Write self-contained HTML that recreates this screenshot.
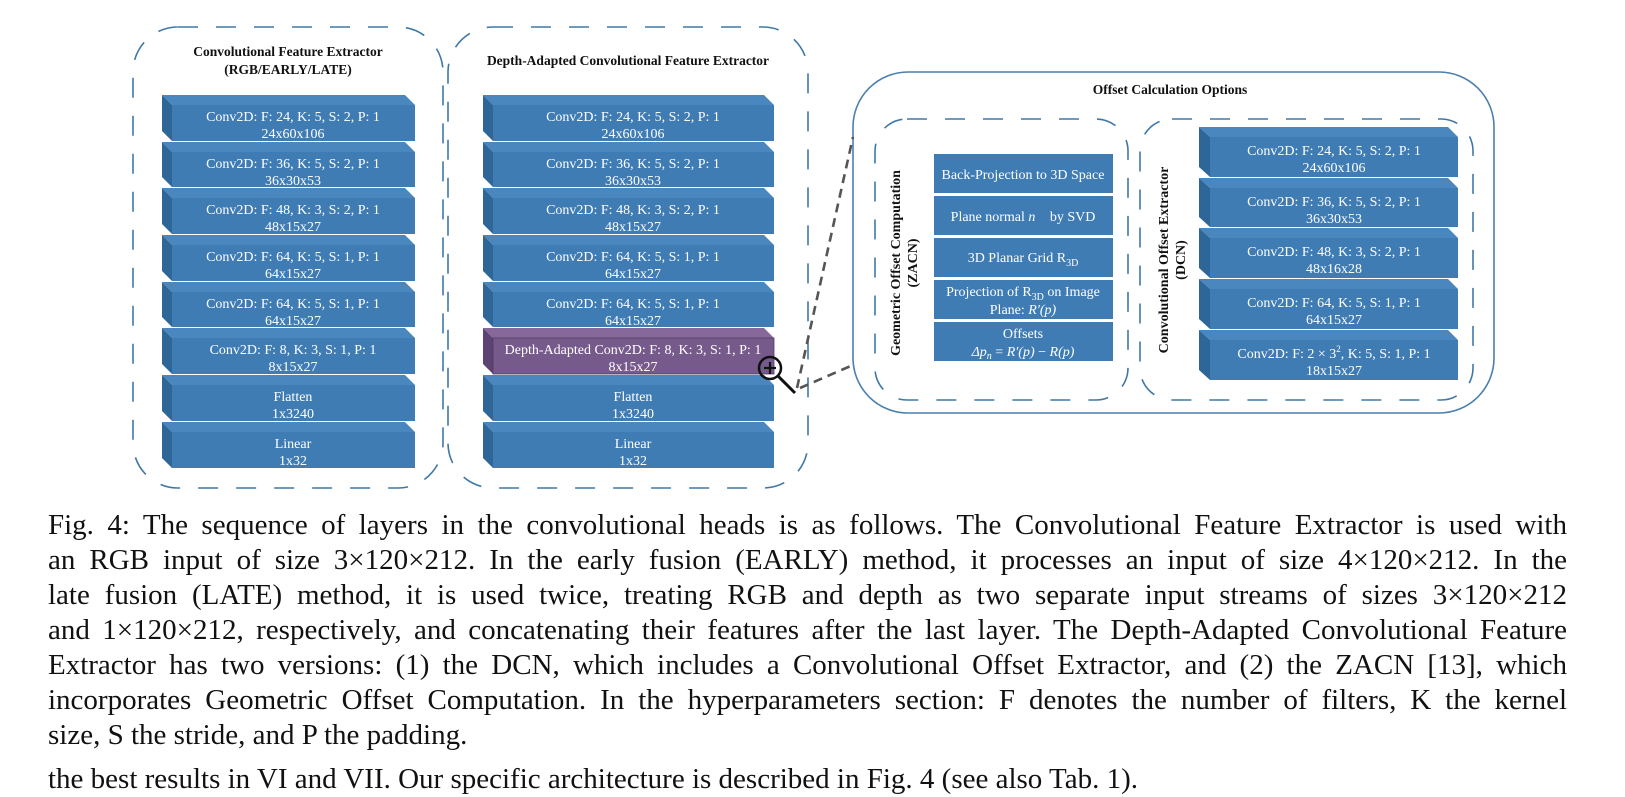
<!DOCTYPE html>
<html><head><meta charset="utf-8"><style>
html,body{margin:0;padding:0;background:#fff;}
body{width:1625px;height:782px;overflow:hidden;position:relative;font-family:"Liberation Serif",serif;}
svg{position:absolute;left:0;top:0;}
.cap{position:absolute;left:48px;width:1519px;font-size:29px;line-height:35px;color:#111;white-space:nowrap;text-align:justify;text-align-last:justify;}
</style></head><body>
<svg width="1625" height="500" viewBox="0 0 1625 500" font-family="Liberation Serif, serif">
<defs>
<g id="dummy"></g>
</defs>
<!-- panels -->
<g fill="none" stroke="#3f78a8" stroke-width="1.6" stroke-dasharray="20 18">
<rect x="133" y="27" width="310" height="461" rx="45"/>
<rect x="448" y="27" width="360" height="461" rx="45"/>
<rect x="875" y="119" width="253" height="281" rx="32"/>
<rect x="1140" y="119" width="333" height="281" rx="32"/>
</g>
<rect x="853" y="72" width="641" height="341" rx="55" fill="none" stroke="#4a7fae" stroke-width="1.6"/>

<g font-weight="bold" font-size="13.5" text-anchor="middle" fill="#111">
<text x="288" y="56">Convolutional Feature Extractor</text>
<text x="288" y="74">(RGB/EARLY/LATE)</text>
<text x="628" y="65">Depth-Adapted Convolutional Feature Extractor</text>
<text x="1170" y="94">Offset Calculation Options</text>
<text transform="translate(900,263) rotate(-90)" font-size="14">Geometric Offset Computation</text>
<text transform="translate(917,263) rotate(-90)" font-size="14">(ZACN)</text>
<text transform="translate(1168,260) rotate(-90)" font-size="14">Convolutional Offset Extractor</text>
<text transform="translate(1185,260) rotate(-90)" font-size="14">(DCN)</text>
</g>

<!-- left column blocks -->
<g fill="#3f7cb4">
<!-- generic block: top polygon, side polygon, front rect -->
</g>
<g id="L">
<!-- block tops: 95,142,188,235,282,328,375,422 bottom 468 -->
<g>
<polygon points="162,95 405,95 415,105 172,105" fill="#4a87bf"/><polygon points="162,95 172,105 172,141 162,131" fill="#2f6698"/><rect x="172" y="105" width="243" height="36" fill="#3f7cb4"/>
<polygon points="162,142 405,142 415,152 172,152" fill="#4a87bf"/><polygon points="162,142 172,152 172,187 162,177" fill="#2f6698"/><rect x="172" y="152" width="243" height="35" fill="#3f7cb4"/>
<polygon points="162,188 405,188 415,198 172,198" fill="#4a87bf"/><polygon points="162,188 172,198 172,234 162,224" fill="#2f6698"/><rect x="172" y="198" width="243" height="36" fill="#3f7cb4"/>
<polygon points="162,235 405,235 415,245 172,245" fill="#4a87bf"/><polygon points="162,235 172,245 172,281 162,271" fill="#2f6698"/><rect x="172" y="245" width="243" height="36" fill="#3f7cb4"/>
<polygon points="162,282 405,282 415,292 172,292" fill="#4a87bf"/><polygon points="162,282 172,292 172,327 162,317" fill="#2f6698"/><rect x="172" y="292" width="243" height="35" fill="#3f7cb4"/>
<polygon points="162,328 405,328 415,338 172,338" fill="#4a87bf"/><polygon points="162,328 172,338 172,374 162,364" fill="#2f6698"/><rect x="172" y="338" width="243" height="36" fill="#3f7cb4"/>
<polygon points="162,375 405,375 415,385 172,385" fill="#4a87bf"/><polygon points="162,375 172,385 172,421 162,411" fill="#2f6698"/><rect x="172" y="385" width="243" height="36" fill="#3f7cb4"/>
<polygon points="162,422 405,422 415,432 172,432" fill="#4a87bf"/><polygon points="162,422 172,432 172,468 162,458" fill="#2f6698"/><rect x="172" y="432" width="243" height="36" fill="#3f7cb4"/>
</g>
</g>
<!-- middle column blocks -->
<g>
<polygon points="483,95 764,95 774,105 493,105" fill="#4a87bf"/><polygon points="483,95 493,105 493,141 483,131" fill="#2f6698"/><rect x="493" y="105" width="281" height="36" fill="#3f7cb4"/>
<polygon points="483,142 764,142 774,152 493,152" fill="#4a87bf"/><polygon points="483,142 493,152 493,187 483,177" fill="#2f6698"/><rect x="493" y="152" width="281" height="35" fill="#3f7cb4"/>
<polygon points="483,188 764,188 774,198 493,198" fill="#4a87bf"/><polygon points="483,188 493,198 493,234 483,224" fill="#2f6698"/><rect x="493" y="198" width="281" height="36" fill="#3f7cb4"/>
<polygon points="483,235 764,235 774,245 493,245" fill="#4a87bf"/><polygon points="483,235 493,245 493,281 483,271" fill="#2f6698"/><rect x="493" y="245" width="281" height="36" fill="#3f7cb4"/>
<polygon points="483,282 764,282 774,292 493,292" fill="#4a87bf"/><polygon points="483,282 493,292 493,327 483,317" fill="#2f6698"/><rect x="493" y="292" width="281" height="35" fill="#3f7cb4"/>
<polygon points="483,328 764,328 774,338 493,338" fill="#86689a"/><polygon points="483,328 493,338 493,374 483,364" fill="#5e4272"/><rect x="493" y="338" width="281" height="36" fill="#775a8c" stroke="#4e3a60" stroke-width="0.8"/>
<polygon points="483,375 764,375 774,385 493,385" fill="#4a87bf"/><polygon points="483,375 493,385 493,421 483,411" fill="#2f6698"/><rect x="493" y="385" width="281" height="36" fill="#3f7cb4"/>
<polygon points="483,422 764,422 774,432 493,432" fill="#4a87bf"/><polygon points="483,422 493,432 493,468 483,458" fill="#2f6698"/><rect x="493" y="432" width="281" height="36" fill="#3f7cb4"/>
</g>
<!-- DCN blocks -->
<g>
<polygon points="1199,127 1448,127 1458,137 1210,137" fill="#4a87bf"/><polygon points="1199,127 1210,137 1210,177 1199,167" fill="#2f6698"/><rect x="1210" y="137" width="248" height="40" fill="#3f7cb4"/>
<polygon points="1199,178 1448,178 1458,188 1210,188" fill="#4a87bf"/><polygon points="1199,178 1210,188 1210,227 1199,217" fill="#2f6698"/><rect x="1210" y="188" width="248" height="39" fill="#3f7cb4"/>
<polygon points="1199,228 1448,228 1458,238 1210,238" fill="#4a87bf"/><polygon points="1199,228 1210,238 1210,278 1199,268" fill="#2f6698"/><rect x="1210" y="238" width="248" height="40" fill="#3f7cb4"/>
<polygon points="1199,279 1448,279 1458,289 1210,289" fill="#4a87bf"/><polygon points="1199,279 1210,289 1210,329 1199,319" fill="#2f6698"/><rect x="1210" y="289" width="248" height="40" fill="#3f7cb4"/>
<polygon points="1199,330 1448,330 1458,340 1210,340" fill="#4a87bf"/><polygon points="1199,330 1210,340 1210,380 1199,370" fill="#2f6698"/><rect x="1210" y="340" width="248" height="40" fill="#3f7cb4"/>
</g>
<!-- ZACN boxes -->
<g fill="#3f7cb4">
<rect x="934" y="154" width="179" height="39"/>
<rect x="934" y="196" width="179" height="39"/>
<rect x="934" y="238" width="179" height="39"/>
<rect x="934" y="280" width="179" height="39"/>
<rect x="934" y="322" width="179" height="39"/>
</g>

<g fill="#fff" font-size="14" text-anchor="middle">
<text x="293" y="121">Conv2D: F: 24, K: 5, S: 2, P: 1</text><text x="293" y="138">24x60x106</text>
<text x="293" y="168">Conv2D: F: 36, K: 5, S: 2, P: 1</text><text x="293" y="185">36x30x53</text>
<text x="293" y="214">Conv2D: F: 48, K: 3, S: 2, P: 1</text><text x="293" y="231">48x15x27</text>
<text x="293" y="261">Conv2D: F: 64, K: 5, S: 1, P: 1</text><text x="293" y="278">64x15x27</text>
<text x="293" y="308">Conv2D: F: 64, K: 5, S: 1, P: 1</text><text x="293" y="325">64x15x27</text>
<text x="293" y="354">Conv2D: F: 8, K: 3, S: 1, P: 1</text><text x="293" y="371">8x15x27</text>
<text x="293" y="401">Flatten</text><text x="293" y="418">1x3240</text>
<text x="293" y="448">Linear</text><text x="293" y="465">1x32</text>

<text x="633" y="121">Conv2D: F: 24, K: 5, S: 2, P: 1</text><text x="633" y="138">24x60x106</text>
<text x="633" y="168">Conv2D: F: 36, K: 5, S: 2, P: 1</text><text x="633" y="185">36x30x53</text>
<text x="633" y="214">Conv2D: F: 48, K: 3, S: 2, P: 1</text><text x="633" y="231">48x15x27</text>
<text x="633" y="261">Conv2D: F: 64, K: 5, S: 1, P: 1</text><text x="633" y="278">64x15x27</text>
<text x="633" y="308">Conv2D: F: 64, K: 5, S: 1, P: 1</text><text x="633" y="325">64x15x27</text>
<text x="633" y="354">Depth-Adapted Conv2D: F: 8, K: 3, S: 1, P: 1</text><text x="633" y="371">8x15x27</text>
<text x="633" y="401">Flatten</text><text x="633" y="418">1x3240</text>
<text x="633" y="448">Linear</text><text x="633" y="465">1x32</text>

<text x="1334" y="155">Conv2D: F: 24, K: 5, S: 2, P: 1</text><text x="1334" y="172">24x60x106</text>
<text x="1334" y="206">Conv2D: F: 36, K: 5, S: 2, P: 1</text><text x="1334" y="223">36x30x53</text>
<text x="1334" y="256">Conv2D: F: 48, K: 3, S: 2, P: 1</text><text x="1334" y="273">48x16x28</text>
<text x="1334" y="307">Conv2D: F: 64, K: 5, S: 1, P: 1</text><text x="1334" y="324">64x15x27</text>
<text x="1334" y="358">Conv2D: F: 2 × 3<tspan font-size="9" dy="-6">2</tspan><tspan dy="6">, K: 5, S: 1, P: 1</tspan></text><text x="1334" y="375">18x15x27</text>

<text x="1023" y="179">Back-Projection to 3D Space</text>
<text x="1023" y="221">Plane normal <tspan font-style="italic">n⃗</tspan> by SVD</text>
<text x="1023" y="262">3D Planar Grid R<tspan font-size="10" dy="4">3D</tspan></text>
<text x="1023" y="296">Projection  of R<tspan font-size="10" dy="4">3D</tspan><tspan dy="-4"> on Image</tspan></text>
<text x="1023" y="314">Plane: <tspan font-style="italic">R′(p)</tspan></text>
<text x="1023" y="338">Offsets</text>
<text x="1023" y="356" font-style="italic">Δp<tspan font-size="10" dy="3">n</tspan><tspan dy="-3" font-style="normal"> = </tspan>R′(p)<tspan font-style="normal"> − </tspan>R(p)</text>
</g>

<!-- connector -->
<g stroke="#555" stroke-width="2.6" stroke-dasharray="9 6" fill="none">
<line x1="797" y1="388" x2="853" y2="137"/>
<line x1="800" y1="388" x2="853" y2="365"/>
</g>
<circle cx="770" cy="368" r="11" fill="none" stroke="#111" stroke-width="2.5"/>
<line x1="764" y1="368" x2="776" y2="368" stroke="#111" stroke-width="2.2"/>
<line x1="770" y1="362" x2="770" y2="374" stroke="#111" stroke-width="2.2"/>
<line x1="778" y1="376" x2="795" y2="393" stroke="#111" stroke-width="3"/>
</svg>

<div class="cap" style="top:508px">Fig. 4: The sequence of layers in the convolutional heads is as follows. The Convolutional Feature Extractor is used with</div>
<div class="cap" style="top:543px">an RGB input of size 3×120×212. In the early fusion (EARLY) method, it processes an input of size 4×120×212. In the</div>
<div class="cap" style="top:578px">late fusion (LATE) method, it is used twice, treating RGB and depth as two separate input streams of sizes 3×120×212</div>
<div class="cap" style="top:613px">and 1×120×212, respectively, and concatenating their features after the last layer. The Depth-Adapted Convolutional Feature</div>
<div class="cap" style="top:648px">Extractor has two versions: (1) the DCN, which includes a Convolutional Offset Extractor, and (2) the ZACN [13], which</div>
<div class="cap" style="top:683px">incorporates Geometric Offset Computation. In the hyperparameters section: F denotes the number of filters, K the kernel</div>
<div class="cap" style="top:718px;text-align-last:left;width:auto">size, S the stride, and P the padding.</div>
<div class="cap" style="top:762px;text-align-last:left;width:auto">the best results in VI and VII. Our specific architecture is described in Fig. 4 (see also Tab. 1).</div>
</body></html>
